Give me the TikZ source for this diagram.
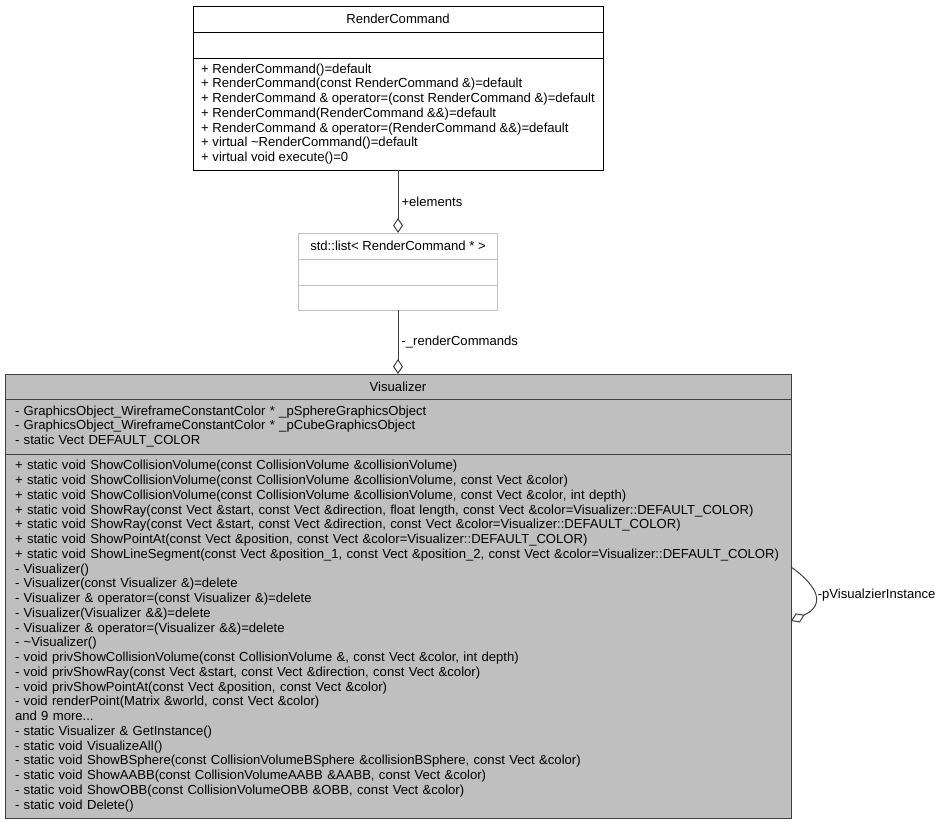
\documentclass[tikz,border=0pt]{standalone}
\usepackage{fontspec}
\setmainfont{Liberation Sans}
\usetikzlibrary{arrows.meta,positioning}
\definecolor{EdgeGray}{HTML}{404040}
\definecolor{ClassFill}{HTML}{BFBFBF}
\definecolor{TplBorder}{HTML}{BFBFBF}
\newcommand{\umlfont}{\fontsize{13.1}{14.75}\selectfont}
\tikzset{
  classhead/.style={draw=black,fill=white,minimum height=26pt,align=center,inner sep=0pt,outer sep=0pt,font=\umlfont},
  classbody/.style={draw=black,fill=white,align=left,inner xsep=10pt,inner ysep=0pt,outer sep=0pt,font=\umlfont},
  mainclass/.style={draw=EdgeGray,fill=ClassFill},
  tplclass/.style={draw=TplBorder,fill=white},
  aggregation/.style={{Diamond[fill=white,length=15pt,width=10pt]}-,draw=EdgeGray,line width=1pt},
  rolelabel/.style={font=\umlfont,inner sep=1pt}
}
\begin{document}
\begin{tikzpicture}[x=1pt,y=-1pt,line width=1pt]
\useasboundingbox (0,0) rectangle (941,823);
% RenderCommand
\node[classhead,minimum width=410pt] (rc) at (398,19) {RenderCommand};
\node[classbody,minimum width=410pt,minimum height=26pt,below=0pt of rc] (rcattr) {};
\node[classbody,inner xsep=5pt,minimum width=410pt,minimum height=112pt,below=0pt of rcattr] (rcops) {%
+ RenderCommand()=default\\
+ RenderCommand(const RenderCommand \&)=default\\
+ RenderCommand \& operator=(const RenderCommand \&)=default\\
+ RenderCommand(RenderCommand \&\&)=default\\
+ RenderCommand \& operator=(RenderCommand \&\&)=default\\
+ virtual \textasciitilde RenderCommand()=default\\
+ virtual void execute()=0};
% std::list
\node[classhead,tplclass,minimum width=199pt] (lst) at (398,246) {std::list< RenderCommand * >};
\node[classbody,tplclass,minimum width=199pt,minimum height=26pt,below=0pt of lst] (lstattr) {};
\node[classbody,tplclass,minimum width=199pt,minimum height=25pt,below=0pt of lstattr] (lstops) {};
% Visualizer
\node[classhead,mainclass,minimum width=786pt,minimum height=25pt] (vis) at (398,386.5) {Visualizer};
\node[classbody,mainclass,minimum width=786pt,text width=766pt,minimum height=55pt,below=0pt of vis] (visattr) {%
- GraphicsObject\_WireframeConstantColor * \_pSphereGraphicsObject\\
- GraphicsObject\_WireframeConstantColor * \_pCubeGraphicsObject\\
- static Vect DEFAULT\_COLOR};
\node[classbody,mainclass,minimum width=786pt,text width=766pt,minimum height=364pt,below=0pt of visattr] (visops) {%
+ static void ShowCollisionVolume(const CollisionVolume \&collisionVolume)\\
+ static void ShowCollisionVolume(const CollisionVolume \&collisionVolume, const Vect \&color)\\
+ static void ShowCollisionVolume(const CollisionVolume \&collisionVolume, const Vect \&color, int depth)\\
+ static void ShowRay(const Vect \&start, const Vect \&direction, float length, const Vect \&color=Visualizer::DEFAULT\_COLOR)\\
+ static void ShowRay(const Vect \&start, const Vect \&direction, const Vect \&color=Visualizer::DEFAULT\_COLOR)\\
+ static void ShowPointAt(const Vect \&position, const Vect \&color=Visualizer::DEFAULT\_COLOR)\\
+ static void ShowLineSegment(const Vect \&position\_1, const Vect \&position\_2, const Vect \&color=Visualizer::DEFAULT\_COLOR)\\
- Visualizer()\\
- Visualizer(const Visualizer \&)=delete\\
- Visualizer \& operator=(const Visualizer \&)=delete\\
- Visualizer(Visualizer \&\&)=delete\\
- Visualizer \& operator=(Visualizer \&\&)=delete\\
- \textasciitilde Visualizer()\\
- void privShowCollisionVolume(const CollisionVolume \&, const Vect \&color, int depth)\\
- void privShowRay(const Vect \&start, const Vect \&direction, const Vect \&color)\\
- void privShowPointAt(const Vect \&position, const Vect \&color)\\
- void renderPoint(Matrix \&world, const Vect \&color)\\
and 9 more...\\
- static Visualizer \& GetInstance()\\
- static void VisualizeAll()\\
- static void ShowBSphere(const CollisionVolumeBSphere \&collisionBSphere, const Vect \&color)\\
- static void ShowAABB(const CollisionVolumeAABB \&AABB, const Vect \&color)\\
- static void ShowOBB(const CollisionVolumeOBB \&OBB, const Vect \&color)\\
- static void Delete()};
% connectors
\draw[aggregation] (lst.north) -- node[rolelabel,right=2pt] {+elements} (rcops.south);
\draw[aggregation] (vis.north) -- node[rolelabel,right=2pt] {-\_renderCommands} (lstops.south);
\coordinate (loopin) at (visops.east |- 0,621);
\coordinate (loopout) at (visops.east |- 0,567);
\draw[aggregation] (loopin) .. controls (826,605) and (818,586) .. node[rolelabel,right=2pt] {-pVisualzierInstance} (loopout);
\end{tikzpicture}
\end{document}
